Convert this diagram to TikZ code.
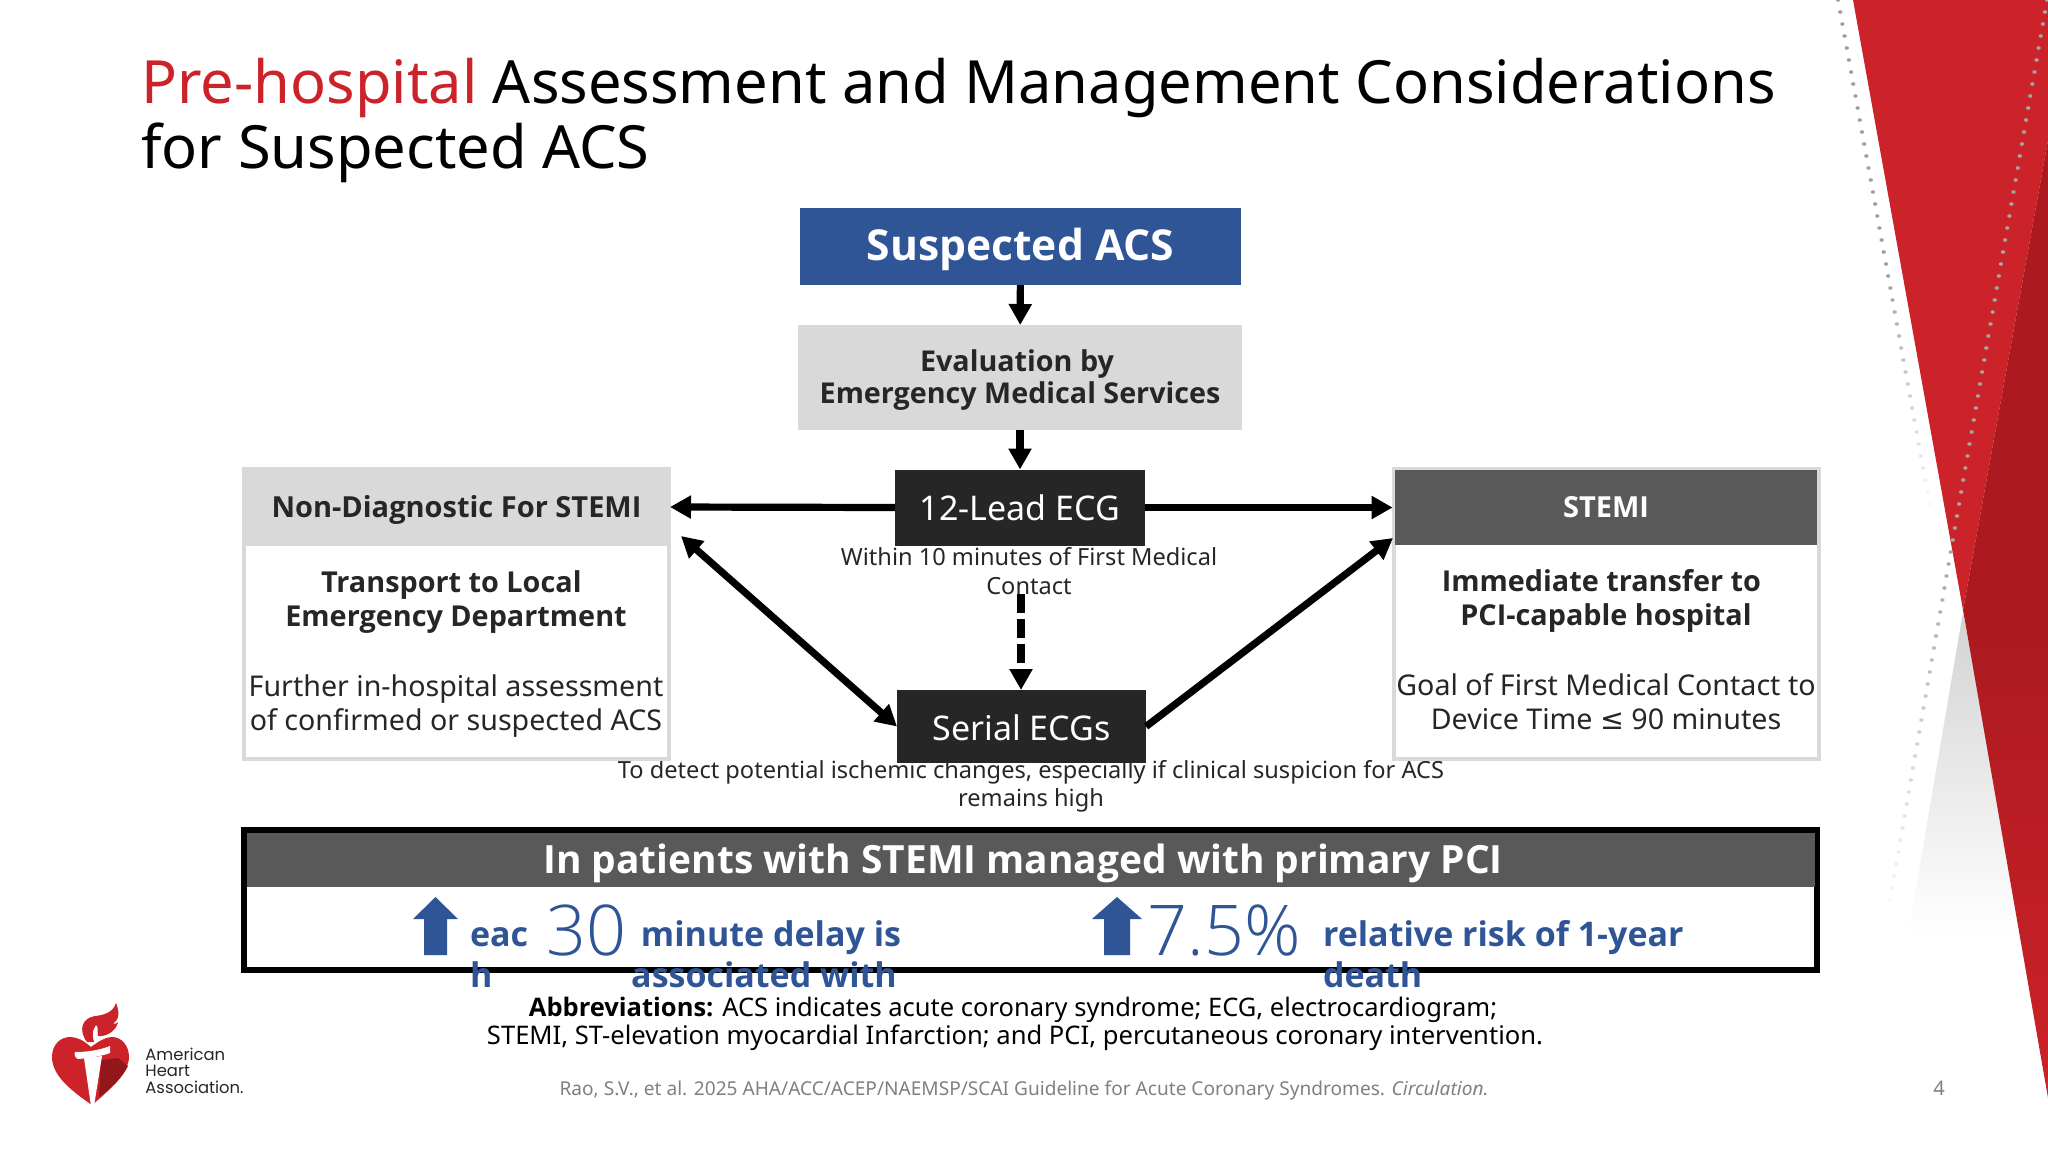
\documentclass[tikz,border=0pt]{standalone}
\usepackage{fontspec}
\setmainfont{Noto Sans}[BoldFont={Open Sans Bold}]
\newfontfamily\lightf{Open Sans Light}
\newfontfamily\logof{Poppins}
\newfontfamily\symf{DejaVu Sans}
\usetikzlibrary{arrows.meta}
\definecolor{acsblue}{HTML}{2F5597}
\definecolor{greybox}{HTML}{D9D9D9}
\definecolor{darkbox}{HTML}{262626}
\definecolor{midgrey}{HTML}{595959}
\definecolor{ahared}{HTML}{CC2229}
\definecolor{ahadark}{HTML}{AC1A1F}
\definecolor{inktext}{HTML}{262626}
\newcommand\dropby[2]{\raisebox{0pt}[\dimexpr\height+#1+#1\relax]{#2}}
\tikzset{
 box/.style={draw=none,inner sep=0pt,outer sep=0pt,align=center,minimum width=#1},
 flow/.style={line width=3.6pt,draw=black,-{Triangle[length=10.5pt,width=11pt]}},
 flowboth/.style={flow,{Triangle[length=10.5pt,width=11pt]}-{Triangle[length=10.5pt,width=11pt]}},
 flowdash/.style={flow,dash pattern=on 9.5pt off 3pt},
 txt/.style={inner sep=0pt,outer sep=0pt,align=center,text=inktext},
 bluet/.style={inner sep=0pt,outer sep=0pt,text=acsblue,font=\fontsize{17}{20}\selectfont\bfseries},
 upblue/.style={fill=acsblue,draw=none},
}
\begin{document}
\begin{tikzpicture}[x=0.5pt,y=-0.5pt]
\useasboundingbox (0,0) rectangle (2048,1152);
% ---- decoration
\begin{scope}
\clip (0,0) rectangle (2048,1152);
\shade[top color=gray!35,bottom color=white] (1963,612) -- (1908,935) -- (2022,935) -- cycle;
\fill[ahared] (1853,0) -- (2048,0) -- (2048,140) -- (1963,610) -- cycle;
\shade[top color=ahadark,bottom color=ahared,middle color=ahadark] (2048,140) -- (1963,610) -- (2048,1098) -- cycle;
\foreach \i in {0,...,42}{
  \pgfmathsetmacro\yy{\i*12}
  \pgfmathsetmacro\xx{1838+0.1816*\yy}
  \pgfmathsetmacro\op{\i<22?75:max(5,75-(\i-22)*3.5)}
  \fill[gray!\op!white] (\xx,\yy) ellipse (2.2 and 1.8);
}
\foreach \i in {0,...,76}{
  \pgfmathsetmacro\yy{\i*12}
  \pgfmathsetmacro\xx{2047-0.1745*\yy}
  \pgfmathsetmacro\op{\i<46?70:max(4,70-(\i-46)*2.2)}
  \fill[gray!\op!white] (\xx,\yy) ellipse (2.2 and 1.8);
}
\end{scope}
% ---- title
\node[anchor=base west,inner sep=0pt,font=\fontsize{29.8}{32}\selectfont] (title1) at (141,103) {\textcolor{ahared}{Pre-hospital} Assessment and Management Considerations};
\node[anchor=base west,inner sep=0pt,font=\fontsize{29.8}{32}\selectfont] (title2) at (141,168) {for Suspected ACS};
% ---- top boxes
\node[box=220.5pt,minimum height=38.5pt,fill=acsblue,text=white,font=\fontsize{21.3}{24}\selectfont\bfseries] (acs) at (1020.5,246.5) {\dropby{1.3pt}{Suspected ACS}};
\node[box=222pt,minimum height=52.5pt,fill=greybox,text=inktext,font=\fontsize{14.35}{15.7}\selectfont\bfseries] (ems) at (1020,377.5) {\dropby{1.3pt}{Evaluation by\hspace*{3pt}}\\Emergency Medical Services};
\node[box=125pt,minimum height=38pt,fill=darkbox,text=white,font=\fontsize{17}{20}\selectfont] (ecg) at (1020,507.5) {12-Lead ECG};
\node[box=124.5pt,minimum height=36.5pt,fill=darkbox,text=white,font=\fontsize{17}{20}\selectfont] (serial) at (1021.5,726.5) {\dropby{0.6pt}{Serial ECGs}};
\node[txt,font=\fontsize{11.8}{14.3}\selectfont] (ecgnote) at (1029,571) {Within 10 minutes of First Medical\\Contact};
\node[txt,font=\fontsize{11.8}{14}\selectfont] (serialnote) at (1031,786) {To detect potential ischemic changes, especially if clinical suspicion for ACS\\remains high};
% ---- left box
\node[box=212.5pt,minimum height=145pt,fill=white,draw=greybox,line width=2pt] (leftbox) at (456.5,613.5) {};
\node[box=213.5pt,minimum height=39pt,fill=greybox,text=inktext,font=\fontsize{14.5}{17}\selectfont\bfseries] (lefthead) at (456.5,507) {\dropby{1.3pt}{Non-Diagnostic For STEMI}};
\node[txt,font=\fontsize{14.4}{17}\selectfont\bfseries] (lefta) at (456,602) {Transport to Local\hspace*{4.6pt}\\Emergency Department};
\node[txt,font=\fontsize{14.3}{17}\selectfont] (leftb) at (456,706) {Further in-hospital assessment\\of confirmed or suspected ACS};
% ---- right box
\node[box=212.5pt,minimum height=145pt,fill=white,draw=greybox,line width=2pt] (rightbox) at (1606,613.5) {};
\node[box=211pt,minimum height=37.5pt,fill=midgrey,text=white,font=\fontsize{14.5}{17}\selectfont\bfseries] (righthead) at (1606,507.5) {STEMI};
\node[txt,font=\fontsize{14.4}{17}\selectfont\bfseries] (righta) at (1606,601) {Immediate transfer to\hspace*{4.6pt}\\PCI-capable hospital};
\node[txt,font=\fontsize{14.3}{17}\selectfont] (rightb) at (1606,702) {Goal of First Medical Contact to\\Device Time {\symf ≤} 90 minutes};
% ---- connectors
\draw[flow] (acs) -- (ems);
\draw[flow] (ems) -- (ecg);
\draw[flow] (ecg.west) -- (lefthead.east);
\draw[flow] (ecg.east) -- ([xshift=-1.2pt]righthead.west);
\draw[flowboth] ([xshift=5.5pt,yshift=5pt]lefthead.south east) -- (serial.west);
\draw[flow] (serial.east) -- ([xshift=-1pt,yshift=3.5pt]righthead.south west);
\coordinate (dashstart) at (1021,594);
\draw[flowdash] (dashstart) -- (serial.north -| dashstart);
% ---- bottom panel
\node[box=786.5pt,minimum height=70pt,fill=white,draw=black,line width=2.8pt] (panel) at (1030.5,900) {};
\node[box=784pt,minimum height=27pt,fill=midgrey,text=white,font=\fontsize{19}{22}\selectfont\bfseries] (panelhead) at (1030.5,859.5) {};
\node[inner sep=0pt,text=white,font=\fontsize{19.45}{22}\selectfont\bfseries] (paneltitle) at (1023,863) {In patients with STEMI managed with primary PCI};
\fill[upblue] (435.5,897) -- (458,919) -- (447,919) -- (447,955) -- (424,955) -- (424,919) -- (413,919) -- cycle;
\fill[upblue] (1117,897) -- (1142,919) -- (1130,919) -- (1130,955) -- (1104,955) -- (1104,919) -- (1092,919) -- cycle;
\node[bluet,anchor=base west] (each1) at (470,946) {eac};
\node[bluet,anchor=base west] (each2) at (470,987) {h};
\node[inner sep=0pt,anchor=base west,text=acsblue,font=\fontsize{35}{40}\selectfont\lightf] (thirty) at (546,955) {30};
\node[bluet,anchor=base] (min1) at (771,946) {minute delay is};
\node[bluet,anchor=base] (min2) at (764,987) {associated with};
\node[inner sep=0pt,anchor=base west,text=acsblue,font=\fontsize{35}{40}\selectfont\lightf] (seven) at (1147,955) {7.5\%};
\node[bluet,anchor=base west] (rel1) at (1323,946) {relative risk of 1-year};
\node[bluet,anchor=base west] (rel2) at (1323,987) {death};
% ---- footer
\node[inner sep=0pt,anchor=base,text=black,font=\fontsize{12.75}{15}\selectfont] (abbr1) at (1013,1016) {\textbf{Abbreviations:} ACS indicates acute coronary syndrome; ECG, electrocardiogram;};
\node[inner sep=0pt,anchor=base,text=black,font=\fontsize{12.8}{15}\selectfont] (abbr2) at (1015,1044) {STEMI, ST-elevation myocardial Infarction; and PCI, percutaneous coronary intervention.};
\node[inner sep=0pt,text=gray,font=\fontsize{9.55}{12}\selectfont] (cite) at (1024,1090) {Rao, S.V., et al. 2025 AHA/ACC/ACEP/NAEMSP/SCAI Guideline for Acute Coronary Syndromes. \textit{Circulation.}};
\node[inner sep=0pt,text=gray,font=\fontsize{10}{12}\selectfont] (pageno) at (1939,1088) {4};
% ---- logo
\fill[ahared] (92,1105) .. controls (70,1090) and (52,1075) .. (52,1057) .. controls (52,1045) and (60,1037) .. (70,1037) .. controls (77,1037) and (83,1040) .. (91,1047) .. controls (100,1040) and (107,1037) .. (112,1037) .. controls (122,1037) and (129,1046) .. (129,1057) .. controls (129,1072) and (110,1090) .. (92,1105) -- cycle;
\fill[ahadark!85!black] (101,1060) -- (118,1058) -- (128,1066) .. controls (122,1078) and (112,1088) .. (99,1097) -- cycle;
\fill[white] (75,1052) .. controls (88,1052) and (100,1050) .. (110,1046) -- (110,1053) .. controls (102,1056) and (90,1058) .. (78,1059) .. controls (75,1058) and (74,1054) .. (75,1052) -- cycle;
\fill[white] (84,1058) -- (102,1056) -- (94,1106) -- (91,1106) -- cycle;
\fill[ahared] (87,1042) .. controls (78,1030) and (82,1018) .. (95,1016) .. controls (105,1015) and (113,1012) .. (116,1003) .. controls (120,1012) and (119,1020) .. (113,1024) .. controls (116,1024) and (117,1023) .. (118,1022) .. controls (116,1032) and (105,1037) .. (98,1036) .. controls (97,1030) and (99,1027) .. (96,1025) .. controls (92,1030) and (92,1036) .. (94,1042) -- cycle;
\node[inner sep=0pt,anchor=base west,text=inktext,font=\fontsize{8.2}{10}\selectfont\logof] (lg1) at (145,1060) {American};
\node[inner sep=0pt,anchor=base west,text=inktext,font=\fontsize{8.2}{10}\selectfont\logof] (lg2) at (145,1076) {Heart};
\node[inner sep=0pt,anchor=base west,text=inktext,font=\fontsize{8.2}{10}\selectfont\logof] (lg3) at (145,1093) {Association.};
\end{tikzpicture}
\end{document}
